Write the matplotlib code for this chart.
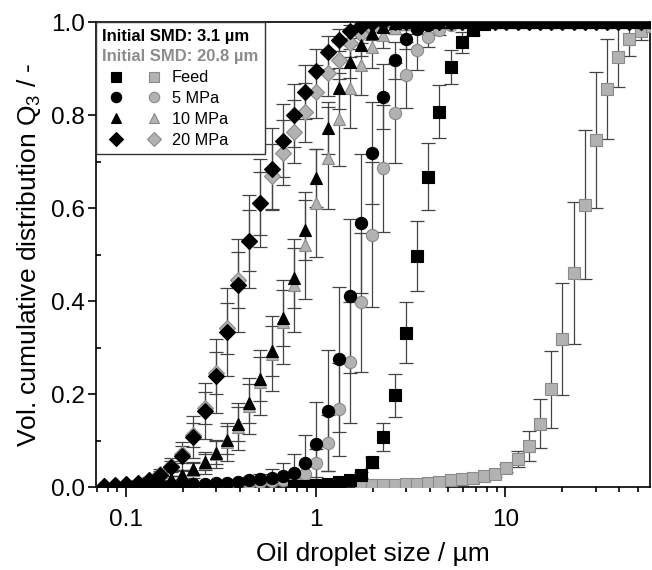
import numpy as np
import matplotlib
matplotlib.use('Agg')
import matplotlib.pyplot as plt
from matplotlib.ticker import LogLocator, FuncFormatter, MultipleLocator, NullFormatter
from matplotlib.legend_handler import HandlerTuple
from matplotlib.offsetbox import TextArea

plt.rcParams['font.family'] = ['Liberation Sans', 'DejaVu Sans']
plt.rcParams['mathtext.default'] = 'regular'

# size classes (um) of the laser diffraction instrument
size_um = [0.0766, 0.0877, 0.1005, 0.1151, 0.1318, 0.1510, 0.1729, 0.1981, 0.2269, 0.2599,
           0.2976, 0.3409, 0.3905, 0.4472, 0.5122, 0.5867, 0.6720, 0.7697, 0.8816, 1.0097,
           1.1565, 1.3246, 1.5172, 1.7377, 1.9904, 2.2797, 2.6111, 2.9907, 3.4255, 3.9234,
           4.4938, 5.1471, 5.8953, 6.7523, 7.7339, 8.8583, 10.146, 11.621, 13.310, 15.245,
           17.462, 20.000, 22.908, 26.238, 30.052, 34.421, 39.424, 45.156, 51.720, 59.239]

# initial SMD 3.1 um (black)
q3_feed_a = [None, None, None, None, None, None, None, None, None, None,
             None, None, None, None, None, None, None, 0.002, 0.003, 0.004,
             0.006, 0.010, 0.016, 0.026, 0.053, 0.107, 0.197, 0.332, 0.497, 0.667,
             0.807, 0.903, 0.956, 0.983, 0.995, 1.0, 1.0, 1.0, 1.0, 1.0,
             1.0, 1.0, 1.0, 1.0, 1.0, 1.0, 1.0, 1.0, 1.0, 1.0]
sd_feed_a = [0, 0, 0, 0, 0, 0, 0, 0, 0, 0,
             0, 0, 0, 0, 0, 0, 0, 0.001, 0.001, 0.002,
             0.003, 0.004, 0.005, 0.006, 0.012, 0.030, 0.047, 0.065, 0.075, 0.072,
             0.057, 0.037, 0.022, 0.010, 0.004, 0, 0, 0, 0, 0,
             0, 0, 0, 0, 0, 0, 0, 0, 0, 0]
q3_5mpa_a = [0.001, 0.002, 0.002, 0.003, 0.003, 0.004, 0.004, 0.005, 0.006, 0.007,
             0.008, 0.009, 0.011, 0.014, 0.017, 0.020, 0.024, 0.031, 0.051, 0.092,
             0.164, 0.275, 0.411, 0.567, 0.718, 0.839, 0.918, 0.963, 0.984, 0.994,
             1.0, 1.0, 1.0, 1.0, 1.0, 1.0, 1.0, 1.0, 1.0, 1.0,
             1.0, 1.0, 1.0, 1.0, 1.0, 1.0, 1.0, 1.0, 1.0, 1.0]
sd_5mpa_a = [0.001, 0.001, 0.001, 0.001, 0.001, 0.002, 0.002, 0.002, 0.002, 0.003,
             0.003, 0.004, 0.005, 0.008, 0.012, 0.018, 0.027, 0.040, 0.060, 0.090,
             0.130, 0.156, 0.165, 0.150, 0.110, 0.070, 0.040, 0.020, 0.010, 0.004,
             0, 0, 0, 0, 0, 0, 0, 0, 0, 0,
             0, 0, 0, 0, 0, 0, 0, 0, 0, 0]
q3_10mpa_a = [0.002, 0.003, 0.004, 0.005, 0.008, 0.011, 0.017, 0.026, 0.039, 0.054,
              0.074, 0.101, 0.135, 0.180, 0.232, 0.293, 0.363, 0.449, 0.553, 0.665,
              0.772, 0.857, 0.915, 0.951, 0.976, 0.990, 0.997, 1.0, 1.0, 1.0,
              1.0, 1.0, 1.0, 1.0, 1.0, 1.0, 1.0, 1.0, 1.0, 1.0,
              1.0, 1.0, 1.0, 1.0, 1.0, 1.0, 1.0, 1.0, 1.0, 1.0]
sd_10mpa_a = [0.001, 0.001, 0.002, 0.002, 0.003, 0.004, 0.006, 0.009, 0.013, 0.018,
              0.024, 0.030, 0.036, 0.042, 0.048, 0.054, 0.060, 0.064, 0.065, 0.062,
              0.055, 0.045, 0.035, 0.025, 0.015, 0.008, 0.003, 0, 0, 0,
              0, 0, 0, 0, 0, 0, 0, 0, 0, 0,
              0, 0, 0, 0, 0, 0, 0, 0, 0, 0]
q3_20mpa_a = [0.003, 0.004, 0.006, 0.009, 0.014, 0.026, 0.043, 0.067, 0.107, 0.164,
              0.239, 0.333, 0.434, 0.528, 0.611, 0.683, 0.745, 0.799, 0.849, 0.895,
              0.935, 0.962, 0.980, 0.991, 0.997, 1.0, 1.0, 1.0, 1.0, 1.0,
              1.0, 1.0, 1.0, 1.0, 1.0, 1.0, 1.0, 1.0, 1.0, 1.0,
              1.0, 1.0, 1.0, 1.0, 1.0, 1.0, 1.0, 1.0, 1.0, 1.0]
sd_20mpa_a = [0.002, 0.002, 0.003, 0.005, 0.008, 0.013, 0.020, 0.030, 0.045, 0.060,
              0.080, 0.095, 0.100, 0.100, 0.095, 0.088, 0.078, 0.068, 0.058, 0.047,
              0.035, 0.024, 0.014, 0.007, 0.003, 0, 0, 0, 0, 0,
              0, 0, 0, 0, 0, 0, 0, 0, 0, 0,
              0, 0, 0, 0, 0, 0, 0, 0, 0, 0]

# initial SMD 20.8 um (grey)
q3_feed_b = [None, None, None, None, None, None, None, None, None, None,
             None, None, None, None, None, None, None, None, None, None,
             None, None, None, 0.004, 0.005, 0.005, 0.005, 0.006, 0.007, 0.009,
             0.011, 0.014, 0.017, 0.020, 0.023, 0.029, 0.041, 0.060, 0.088, 0.136,
             0.210, 0.318, 0.460, 0.607, 0.747, 0.856, 0.925, 0.963, 0.981, 0.992]
sd_feed_b = [0, 0, 0, 0, 0, 0, 0, 0, 0, 0,
             0, 0, 0, 0, 0, 0, 0, 0, 0, 0,
             0, 0, 0, 0.002, 0.002, 0.002, 0.002, 0.002, 0.002, 0.003,
             0.003, 0.004, 0.005, 0.005, 0.006, 0.007, 0.009, 0.017, 0.032, 0.053,
             0.083, 0.120, 0.153, 0.160, 0.146, 0.107, 0.065, 0.036, 0.020, 0.010]
q3_5mpa_b = [0.001, 0.001, 0.002, 0.002, 0.003, 0.003, 0.004, 0.004, 0.005, 0.005,
             0.006, 0.006, 0.007, 0.008, 0.010, 0.012, 0.015, 0.019, 0.028, 0.052,
             0.095, 0.167, 0.268, 0.397, 0.543, 0.685, 0.804, 0.886, 0.940, 0.968,
             0.983, 0.993, 1.0, 1.0, 1.0, 1.0, 1.0, 1.0, 1.0, 1.0,
             1.0, 1.0, 1.0, 1.0, 1.0, 1.0, 1.0, 1.0, 1.0, 1.0]
sd_5mpa_b = [0.001, 0.001, 0.001, 0.001, 0.001, 0.001, 0.002, 0.002, 0.002, 0.002,
             0.003, 0.003, 0.004, 0.005, 0.006, 0.007, 0.008, 0.010, 0.020, 0.030,
             0.060, 0.100, 0.130, 0.150, 0.155, 0.136, 0.107, 0.071, 0.043, 0.021,
             0.010, 0.004, 0, 0, 0, 0, 0, 0, 0, 0,
             0, 0, 0, 0, 0, 0, 0, 0, 0, 0]
q3_10mpa_b = [0.002, 0.003, 0.004, 0.005, 0.007, 0.010, 0.016, 0.025, 0.037, 0.052,
              0.071, 0.097, 0.130, 0.174, 0.225, 0.287, 0.355, 0.434, 0.520, 0.610,
              0.707, 0.791, 0.857, 0.908, 0.947, 0.972, 0.988, 0.996, 1.0, 1.0,
              1.0, 1.0, 1.0, 1.0, 1.0, 1.0, 1.0, 1.0, 1.0, 1.0,
              1.0, 1.0, 1.0, 1.0, 1.0, 1.0, 1.0, 1.0, 1.0, 1.0]
sd_10mpa_b = [0.001, 0.001, 0.002, 0.002, 0.003, 0.005, 0.008, 0.012, 0.017, 0.023,
              0.030, 0.040, 0.050, 0.060, 0.070, 0.080, 0.090, 0.100, 0.115, 0.116,
              0.110, 0.100, 0.085, 0.065, 0.045, 0.028, 0.014, 0.005, 0, 0,
              0, 0, 0, 0, 0, 0, 0, 0, 0, 0,
              0, 0, 0, 0, 0, 0, 0, 0, 0, 0]
q3_20mpa_b = [0.003, 0.004, 0.006, 0.009, 0.015, 0.027, 0.045, 0.070, 0.112, 0.170,
              0.245, 0.341, 0.445, 0.530, 0.610, 0.668, 0.719, 0.764, 0.806, 0.850,
              0.890, 0.918, 0.955, 0.975, 0.988, 0.995, 1.0, 1.0, 1.0, 1.0,
              1.0, 1.0, 1.0, 1.0, 1.0, 1.0, 1.0, 1.0, 1.0, 1.0,
              1.0, 1.0, 1.0, 1.0, 1.0, 1.0, 1.0, 1.0, 1.0, 1.0]
sd_20mpa_b = [0.001, 0.002, 0.002, 0.003, 0.005, 0.008, 0.012, 0.018, 0.026, 0.035,
              0.045, 0.055, 0.060, 0.065, 0.068, 0.070, 0.070, 0.068, 0.063, 0.057,
              0.050, 0.040, 0.030, 0.020, 0.010, 0.005, 0, 0, 0, 0,
              0, 0, 0, 0, 0, 0, 0, 0, 0, 0,
              0, 0, 0, 0, 0, 0, 0, 0, 0, 0]

labels = ['Feed', '5 MPa', '10 MPa', '20 MPa']
BLACK = ('black', 'black')
GREY = ('#b2b2b2', '#8a8a8a')

fig = plt.figure(figsize=(6.52, 5.70), dpi=100)
ax = fig.add_axes([0.1472, 0.1456, 0.8498, 0.8158])


def plot_series(y, err, marker, ms, colors, z):
    y = np.array(y, dtype=float)
    err = np.array(err, dtype=float)
    ax.errorbar(size_um, y, yerr=err, fmt='none', ecolor='#444444', elinewidth=0.9,
                capsize=5, capthick=0.9, zorder=2)
    line, = ax.plot(size_um, y, ls='none', marker=marker, ms=ms, mfc=colors[0],
                    mec=colors[1], mew=0.8, zorder=z)
    return line


g_feed = plot_series(q3_feed_b, sd_feed_b, 's', 8.3, GREY, 3)
g_5 = plot_series(q3_5mpa_b, sd_5mpa_b, 'o', 8.8, GREY, 3)
g_10 = plot_series(q3_10mpa_b, sd_10mpa_b, '^', 9.3, GREY, 3)
g_20 = plot_series(q3_20mpa_b, sd_20mpa_b, 'D', 7.8, GREY, 3)
b_feed = plot_series(q3_feed_a, sd_feed_a, 's', 8.3, BLACK, 4)
b_5 = plot_series(q3_5mpa_a, sd_5mpa_a, 'o', 8.8, BLACK, 4)
b_10 = plot_series(q3_10mpa_a, sd_10mpa_a, '^', 9.3, BLACK, 4)
b_20 = plot_series(q3_20mpa_a, sd_20mpa_a, 'D', 7.8, BLACK, 4)

ax.set_xscale('log')
ax.set_xlim(0.0695, 58)
ax.set_ylim(0, 1.0)
ax.xaxis.set_major_locator(LogLocator(base=10))
ax.xaxis.set_minor_locator(LogLocator(base=10, subs=np.arange(2, 10)))
ax.xaxis.set_major_formatter(FuncFormatter(lambda v, p: f'{v:g}'))
ax.xaxis.set_minor_formatter(NullFormatter())
ax.yaxis.set_major_locator(MultipleLocator(0.2))
ax.yaxis.set_minor_locator(MultipleLocator(0.1))
ax.yaxis.set_major_formatter(FuncFormatter(lambda v, p: f'{v:.1f}'))

ax.tick_params(axis='x', which='major', direction='out', length=7, width=1.2,
               labelsize=17.5, pad=9)
ax.tick_params(axis='x', which='minor', direction='out', length=3.5, width=1.2)
ax.tick_params(axis='y', which='major', direction='out', length=6, width=1.2,
               labelsize=17.5, pad=2)
ax.tick_params(axis='y', which='minor', direction='in', length=3.5, width=1.2)
for s in ax.spines.values():
    s.set_linewidth(1.2)

ax.set_xlabel('Oil droplet size / µm', fontsize=19, labelpad=8)
ax.set_ylabel(r'Vol. cumulative distribution Q$_3$ / -', fontsize=19, labelpad=6)

leg = ax.legend([(b_feed, g_feed), (b_5, g_5), (b_10, g_10), (b_20, g_20)], labels,
                handler_map={tuple: HandlerTuple(ndivide=None, pad=0.67)},
                loc='upper left', borderaxespad=0, handlelength=3.97,
                handletextpad=0.31, labelspacing=0.36, borderpad=0.4,
                fancybox=False, edgecolor='#333333', framealpha=1, fontsize=11.7,
                markerscale=0.85, title='Initial SMD: 3.1 µm', alignment='left',
                title_fontproperties={'weight': 'bold', 'size': 12})
leg.get_frame().set_linewidth(1.0)
leg.set_zorder(10)
sub_title = TextArea('Initial SMD: 20.8 µm',
                     textprops=dict(color='#8c8c8c', weight='bold', size=12))
leg._legend_box._children.insert(1, sub_title)
sub_title.set_figure(fig)

fig.savefig('out.png', dpi=100)
